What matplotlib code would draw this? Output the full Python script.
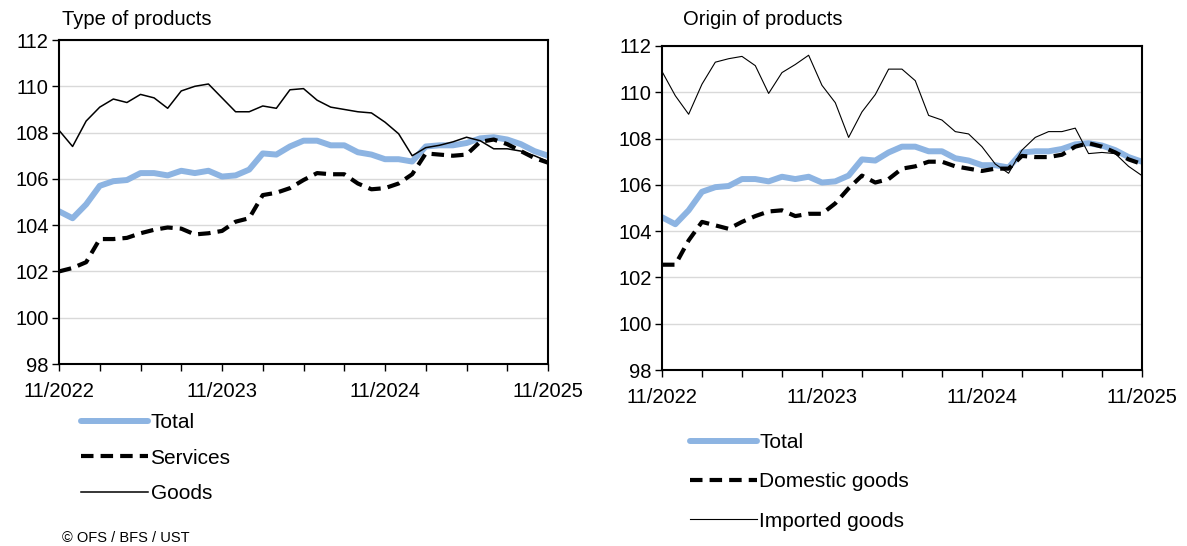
import matplotlib.pyplot as plt

plt.rcParams['font.family'] = ['Liberation Sans', 'DejaVu Sans']

months = list(range(37))  # 11/2022 .. 11/2025
tick_pos = [0, 12, 24, 36]
tick_labels = ['11/2022', '11/2023', '11/2024', '11/2025']

total = [104.6, 104.3, 104.9, 105.7, 105.9, 105.95, 106.25, 106.25, 106.15, 106.35,
         106.25, 106.35, 106.1, 106.15, 106.4, 107.1, 107.05, 107.4, 107.65, 107.65,
         107.45, 107.45, 107.15, 107.05, 106.85, 106.85, 106.75, 107.4, 107.45, 107.45,
         107.55, 107.75, 107.8, 107.7, 107.5, 107.2, 107.0]
services = [102.0, 102.15, 102.4, 103.4, 103.4, 103.45, 103.65, 103.8, 103.9, 103.85,
            103.6, 103.65, 103.75, 104.15, 104.3, 105.3, 105.4, 105.6, 105.95, 106.25,
            106.2, 106.2, 105.8, 105.55, 105.6, 105.8, 106.2, 107.1, 107.05, 107.0,
            107.05, 107.6, 107.7, 107.5, 107.2, 106.9, 106.7]
goods = [108.1, 107.4, 108.5, 109.1, 109.45, 109.3, 109.65, 109.5, 109.05, 109.8,
         110.0, 110.1, 109.5, 108.9, 108.9, 109.15, 109.05, 109.85, 109.9, 109.4,
         109.1, 109.0, 108.9, 108.85, 108.45, 107.95, 107.0, 107.35, 107.45, 107.6,
         107.8, 107.65, 107.3, 107.3, 107.2, 107.0, 106.75]
domestic = [102.55, 102.55, 103.6, 104.4, 104.25, 104.1, 104.4, 104.65, 104.85, 104.9,
            104.65, 104.75, 104.75, 105.2, 105.85, 106.4, 106.1, 106.25, 106.7, 106.8,
            107.0, 107.0, 106.8, 106.7, 106.6, 106.7, 106.7, 107.25, 107.2, 107.2,
            107.3, 107.65, 107.8, 107.65, 107.4, 107.1, 106.9]
imported = [110.9, 109.85, 109.05, 110.35, 111.3, 111.45, 111.55, 111.15, 109.95, 110.85,
            111.2, 111.6, 110.3, 109.55, 108.05, 109.15, 109.9, 111.0, 111.0, 110.5,
            109.0, 108.8, 108.3, 108.2, 107.65, 106.9, 106.5, 107.5, 108.05, 108.3,
            108.3, 108.45, 107.35, 107.4, 107.35, 106.8, 106.4]

blue = '#8db4e2'

fig = plt.figure(figsize=(11.87, 5.46), dpi=100)
ax1 = fig.add_axes([0.0497, 0.3333, 0.412, 0.5934])
ax2 = fig.add_axes([0.5577, 0.3223, 0.4043, 0.5935])


def style(ax):
    ax.set_xlim(0, 36)
    ax.set_ylim(98, 112)
    ax.set_yticks(range(98, 113, 2))
    ax.set_xticks(tick_pos)
    ax.set_xticklabels(tick_labels)
    ax.set_xticks(range(0, 37, 3), minor=True)
    ax.tick_params(axis='both', which='both', direction='out', length=5, width=1,
                   labelsize=14.5, colors='black')
    ax.tick_params(axis='x', which='major', pad=8)
    ax.tick_params(axis='y', pad=2.5)
    ax.grid(axis='y', color='#d9d9d9', linewidth=1)
    ax.set_axisbelow(True)
    for s in ax.spines.values():
        s.set_linewidth(1.5)
        s.set_color('black')


h1 = ax1.plot(months, total, color=blue, lw=4.3, solid_capstyle='round', label='Total')[0]
h2 = ax1.plot(months, services, color='black', lw=3, dashes=(3, 1.7), label='Services')[0]
h3 = ax1.plot(months, goods, color='black', lw=1.1, label='Goods')[0]
style(ax1)
fig.text(0.052, 0.965, 'Type of products', fontsize=14.5, ha='left', va='center')
fig.legend(handles=[h1, h2, h3], loc='upper left', bbox_to_anchor=(0.061, 0.259),
           frameon=False, fontsize=15, handlelength=3.25, handletextpad=0.1,
           labelspacing=0.8, borderaxespad=0)

g1 = ax2.plot(months, total, color=blue, lw=4.3, solid_capstyle='round', label='Total')[0]
g2 = ax2.plot(months, domestic, color='black', lw=3, dashes=(3, 1.7), label='Domestic goods')[0]
g3 = ax2.plot(months, imported, color='black', lw=0.8, label='Imported goods')[0]
style(ax2)
fig.text(0.575, 0.965, 'Origin of products', fontsize=14.5, ha='left', va='center')
fig.legend(handles=[g1, g2, g3], loc='upper left', bbox_to_anchor=(0.574, 0.222),
           frameon=False, fontsize=15, handlelength=3.25, handletextpad=0.1,
           labelspacing=0.97, borderaxespad=0)

fig.text(0.052, 0.014, '\u00a9 OFS / BFS / UST', fontsize=10.5, ha='left', va='center')

fig.savefig('out.png', dpi=100)
